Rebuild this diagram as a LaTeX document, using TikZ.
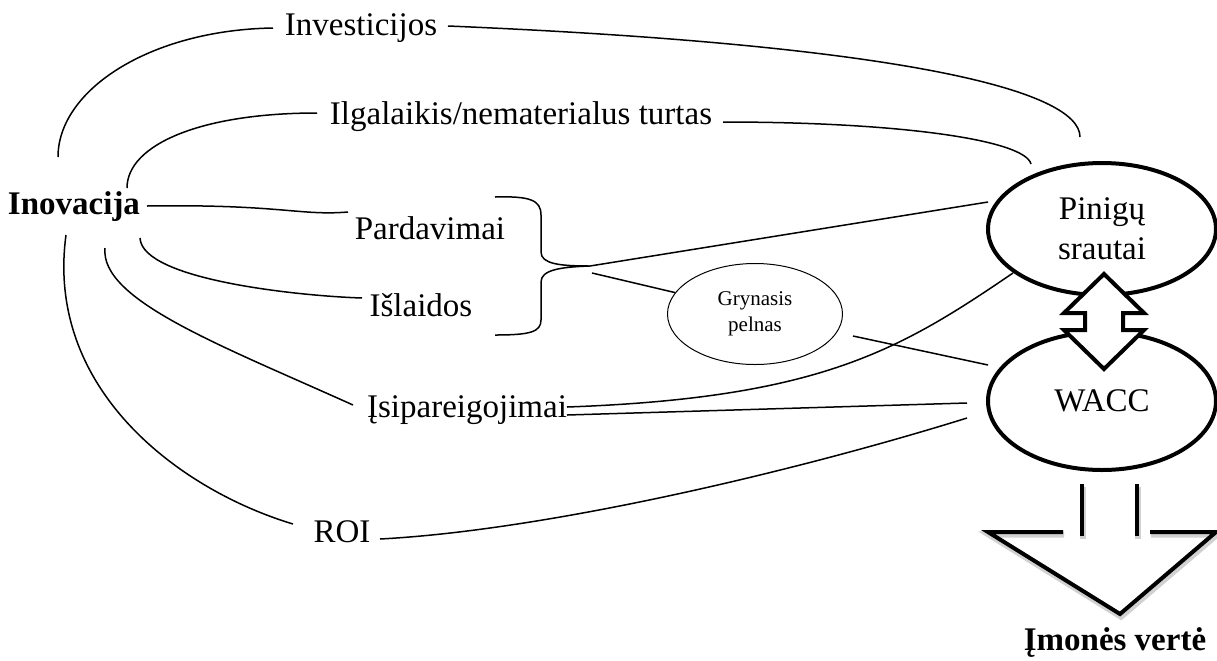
\documentclass[tikz,border=0pt]{standalone}
\usepackage{fontspec}
\setmainfont{Liberation Serif}
\usetikzlibrary{shapes.geometric}
\begin{document}
\begin{tikzpicture}[x=0.5pt,y=-0.5pt,
  lbl/.style={inner sep=0pt, font=\fontsize{16.5}{19}\selectfont},
  key/.style={inner sep=0pt, font=\fontsize{16.5}{19}\selectfont\bfseries},
  link/.style={line width=0.75pt},
  heavy/.style={line width=2pt, line join=miter},
  halo/.style={line width=3.2pt, line join=miter, draw=black!18, shift={(1,2.5)}},
  oval/.style={ellipse, draw, line width=2pt, inner sep=0pt, align=center,
    font=\fontsize{16.5}{20}\selectfont},
  smalloval/.style={ellipse, draw, line width=0.5pt, inner sep=0pt, align=center,
    font=\fontsize{10.5}{13}\selectfont}
]
\useasboundingbox (0,0) rectangle (1217,660);

% text nodes
\node[key] (inov) at (74,207) {Inovacija};
\node[lbl] (inv)  at (361,28)  {Investicijos};
\node[lbl] (ilg)  at (521,117) {Ilgalaikis/nematerialus turtas};
\node[lbl] (par)  at (430,228) {Pardavimai};
\node[lbl] (isl)  at (421,305) {Išlaidos};
\node[lbl] (isi)  at (467,410) {Įsipareigojimai};
\node[lbl] (roi)  at (342,532) {ROI};
\node[key] (val)  at (1115,643) {Įmonės vertė};

% ellipses
\node[oval, minimum width=114pt, minimum height=66pt] (pin) at (1102,229) {Pinigų\\srautai};
\node[oval, minimum width=114pt, minimum height=69pt] (wacc) at (1102,401) {WACC};
\node[smalloval, minimum width=87.5pt, minimum height=50.5pt] (gry) at (755,314) {Grynasis\\pelnas};

% connector end points
\coordinate (inov-a) at (58,157);
\coordinate (inov-b) at (127,188);
\coordinate (inov-c) at (147,206);
\coordinate (inov-d) at (140,238);
\coordinate (inov-e) at (105,248);
\coordinate (inov-f) at (66,235);
\coordinate (inv-l)  at (273,28);
\coordinate (inv-r)  at (448,26);
\coordinate (ilg-l)  at (317,113);
\coordinate (ilg-r)  at (723,122);
\coordinate (par-l)  at (348,212);
\coordinate (isl-l)  at (362,298);
\coordinate (isi-l)  at (353,405);
\coordinate (isi-r1) at (567,407);
\coordinate (isi-r2) at (567,415);
\coordinate (roi-l)  at (293,524);
\coordinate (roi-r)  at (380,539);
\coordinate (pin-a)  at (1080,137);
\coordinate (pin-b)  at (1031,164);
\coordinate (pin-c)  at (988,202);
\coordinate (pin-d)  at (1013,273);
\coordinate (wacc-a) at (988,365);
\coordinate (wacc-b) at (967,403);
\coordinate (wacc-c) at (967,418);
\coordinate (brace)  at (590,266);
\coordinate (brace-g) at (592,273);
\coordinate (gry-r)  at (853,336);

% curves from Inovacija
\draw[link] (inv-l) .. controls (150,30) and (58,90) .. (inov-a);
\draw[link] (ilg-l) .. controls (200,113) and (127,145) .. (inov-b);
\draw[link] (inov-c) .. controls (280,204) and (300,216) .. (par-l);
\draw[link] (inov-d) .. controls (142,280) and (300,296) .. (isl-l);
\draw[link] (inov-e) .. controls (100,300) and (220,345) .. (isi-l);
\draw[link] (inov-f) .. controls (45,390) and (180,490) .. (roi-l);

% curves towards the cash flows and WACC
\draw[link] (inv-r) .. controls (900,45) and (1080,90) .. (pin-a);
\draw[link] (ilg-r) .. controls (900,122) and (1025,140) .. (pin-b);
\draw[link] (brace) -- (pin-c);
\draw[link] (brace-g) -- (gry.165);
\draw[link] (gry-r) -- (wacc-a);
\draw[link] (isi-r1) .. controls (820,398) and (900,350) .. (pin-d);
\draw[link] (isi-r2) -- (wacc-b);
\draw[link] (roi-r) .. controls (550,530) and (800,470) .. (wacc-c);

% brace joining sales and expenses
\draw[link] (495,197) .. controls (530,196) and (541,200) .. (541,215)
  -- (541,252) .. controls (541,264) and (560,266) .. (brace)
  .. controls (560,267) and (541,270) .. (541,282)
  -- (541,320) .. controls (541,332) and (530,335) .. (495,335);

% two-way arrow between cash flows and WACC
\draw[heavy, fill=white] (1104,274) -- (1144,313) -- (1123,313) -- (1123,330)
  -- (1144,330) -- (1104,369) -- (1064,330) -- (1085,330) -- (1085,313)
  -- (1064,313) -- cycle;

% downward arrow to company value, with a faint shadow
\draw[halo] (1063,532) -- (988,532) -- (1120,614) -- (1216,532) -- (1150,532);
\draw[halo] (1082,484) -- (1082,536);
\draw[halo] (1137,484) -- (1137,536);
\draw[heavy] (1063,532) -- (988,532) -- (1120,614) -- (1216,532) -- (1150,532);
\draw[heavy] (1082,484) -- (1082,536);
\draw[heavy] (1137,484) -- (1137,536);
\end{tikzpicture}
\end{document}
